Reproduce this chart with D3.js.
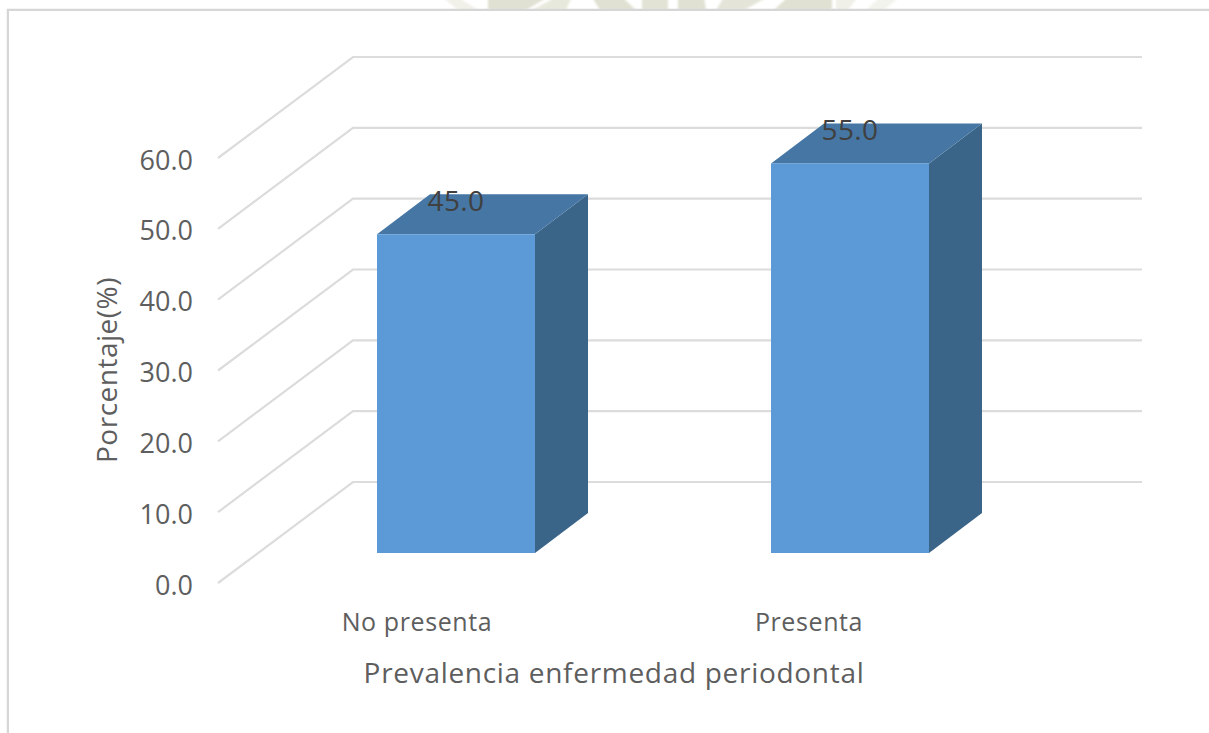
<!DOCTYPE html>
<html>
<head>
<meta charset="utf-8">
<script src="https://cdn.jsdelivr.net/npm/d3@7/dist/d3.min.js"></script>
<style>
  html, body { margin: 0; padding: 0; background: #fff; }
  svg { display: block; }
  text { font-family: "Open Sans", "Noto Sans", sans-serif; fill: #5e5e5e; }
</style>
</head>
<body>
<svg id="chart" width="1209" height="733"></svg>
<script>
const categories = ["No presenta", "Presenta"];
const values = [45.0, 55.0];
const tickValues = [0, 10, 20, 30, 40, 50, 60];
const yTitle = "Porcentaje(%)";
const xTitle = "Prevalencia enfermedad periodontal";

const svg = d3.select("#chart");

// Page seal showing above the pasted chart: top-x0, top-x1, bottom-x0, bottom-x1
const sealPieces = [
  [442, 458, 458, 478, "#f1f1ea"],
  [488, 548, 488, 526, "#e0e1d2"],
  [556, 572, 532, 566, "#e8e9dd"],
  [592, 622, 600, 636, "#e0e1d2"],
  [642, 668, 642, 668, "#e2e3d5"],
  [678, 704, 678, 706, "#e0e1d2"],
  [724, 768, 716, 744, "#e4e5d8"],
  [788, 832, 774, 832, "#e0e1d2"],
  [836, 858, 836, 848, "#f0f0e8"],
  [880, 900, 866, 884, "#f3f3ed"]
];
svg.append("defs").append("filter").attr("id", "soft")
  .append("feGaussianBlur").attr("stdDeviation", 1);
svg.append("g").attr("filter", "url(#soft)").selectAll("path").data(sealPieces).join("path")
  .attr("fill", d => d[4])
  .attr("d", d => `M${d[0]},-3H${d[1]}L${d[3]},10H${d[2]}Z`);

// Frame of the pasted chart
svg.append("path")
  .attr("d", "M8,733V10H1209")
  .attr("fill", "none").attr("stroke", "#d6d6d6").attr("stroke-width", 2.5);
svg.append("rect").attr("x", 9).attr("y", 11).attr("width", 1200).attr("height", 722).attr("fill", "#fff");

// Value scale on the back wall; the front of the floor is shifted by (floorDx, floorDy)
const y = d3.scaleLinear().domain([0, 60]).range([482, 57]);
const wallLeft = 353, wallRight = 1142;
const floorDx = -135, floorDy = 101;

const grid = svg.append("g").attr("fill", "none").attr("stroke", "#dcdcdc").attr("stroke-width", 2.2);
grid.selectAll("path").data(tickValues).join("path")
  .attr("d", v => `M${wallLeft + floorDx},${y(v) + floorDy}L${wallLeft},${y(v)}H${wallRight}`);

// Tick labels along the front edge
const yAxis = d3.axisLeft(d3.scaleLinear().domain([0, 60]).range([y(0) + floorDy, y(60) + floorDy]))
  .tickValues(tickValues).tickFormat(d3.format(".1f")).tickSize(0).tickPadding(0);
const yAxisG = svg.append("g").attr("transform", "translate(193,2.5)").call(yAxis);
yAxisG.select(".domain").remove();
yAxisG.selectAll("text").attr("font-size", 27).style("font-family", '"Open Sans", sans-serif');

// 3-D columns: front face, top and side, all from the value scale
const x = d3.scalePoint().domain(categories).range([456, 850]);
const barW = 158, baseY = 553, depthX = 53, depthY = 40;
const unit = y(0) - y(1);
const topOf = v => baseY - v * unit;

const bars = svg.append("g").selectAll("g").data(categories.map((c, i) => ({ c, v: values[i] }))).join("g");
bars.append("path").attr("fill", "#3a6488")
  .attr("d", d => {
    const r = x(d.c) + barW / 2, t = topOf(d.v);
    return `M${r},${t}l${depthX},${-depthY}V${baseY - depthY}L${r},${baseY}Z`;
  });
bars.append("path").attr("fill", "#4676a4")
  .attr("d", d => {
    const l = x(d.c) - barW / 2, t = topOf(d.v);
    return `M${l},${t}l${depthX},${-depthY}h${barW}l${-depthX},${depthY}Z`;
  });
bars.append("rect").attr("fill", "#5b9ad6")
  .attr("x", d => x(d.c) - barW / 2).attr("width", barW)
  .attr("y", d => topOf(d.v)).attr("height", d => baseY - topOf(d.v));

// Value labels sit on the top face
bars.append("text")
  .attr("x", d => x(d.c)).attr("y", d => topOf(d.v) - 23)
  .attr("text-anchor", "middle").attr("font-size", 28).style("letter-spacing", "0.4px")
  .style("fill", "#404040")
  .text(d => d3.format(".1f")(d.v));

// Category labels
svg.append("g").selectAll("text").data(categories).join("text")
  .attr("x", (d, i) => i === 0 ? x(d) - 39 : x(d) - 41).attr("y", 631)
  .attr("text-anchor", "middle").attr("font-size", 25).style("letter-spacing", "0.6px").text(d => d);

// Axis titles
svg.append("text").attr("x", 614).attr("y", 683).attr("text-anchor", "middle")
  .attr("font-size", 28).style("letter-spacing", "0.7px").text(xTitle);
svg.append("text").attr("transform", "translate(117,370) rotate(-90)")
  .attr("text-anchor", "middle").attr("font-size", 28).style("letter-spacing", "0.5px").text(yTitle);
</script>
</body>
</html>
